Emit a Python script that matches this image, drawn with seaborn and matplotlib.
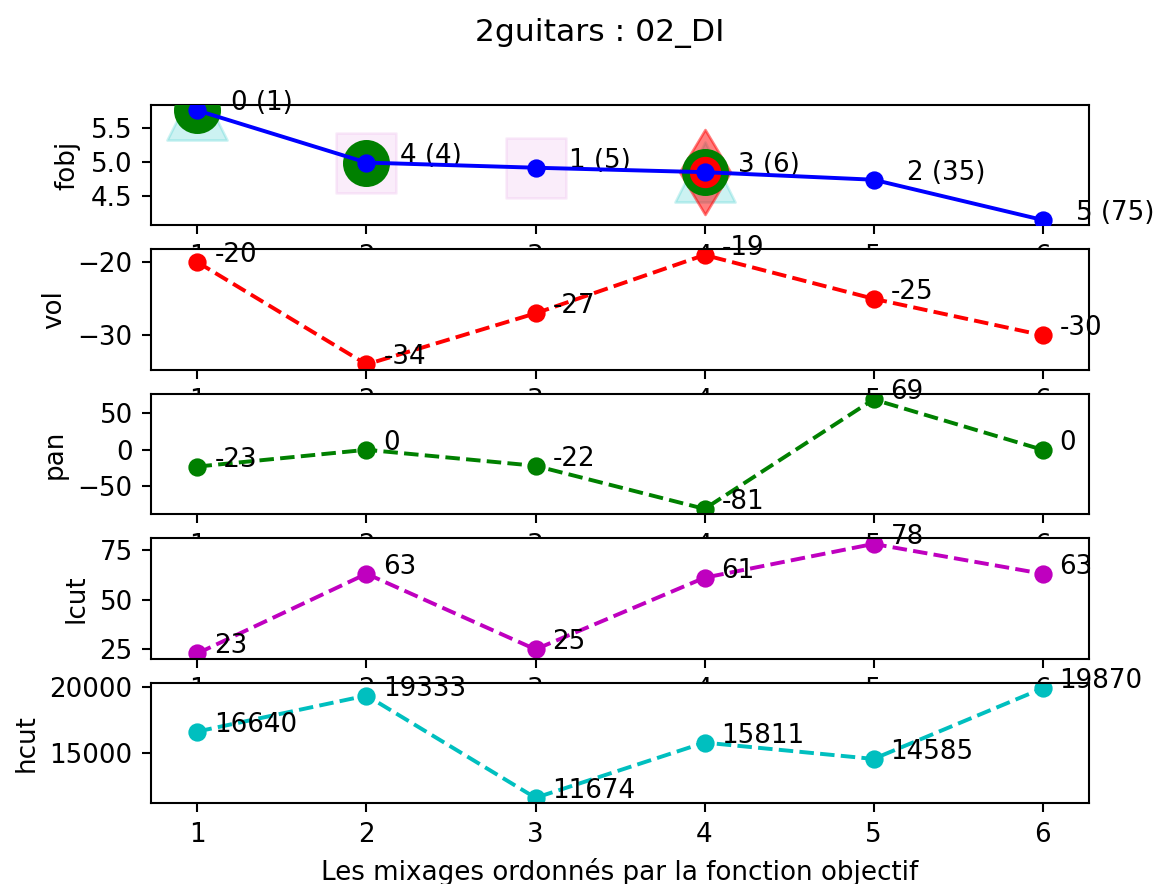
import matplotlib
matplotlib.use("Agg")
import matplotlib.pyplot as plt
import seaborn as sns
import pandas as pd

# Ranked mixes (x axis) and their parameters
mixes = [1, 2, 3, 4, 5, 6]
fobj = [5.75, 4.99, 4.915, 4.85, 4.74, 4.153]
fobj_labels = ["0 (1)", "4 (4)", "1 (5)", "3 (6)", "2 (35)", "5 (75)"]
vol = [-20, -34, -27, -19, -25, -30]
pan = [-23, 0, -22, -81, 69, 0]
lcut = [23, 63, 25, 61, 78, 63]
hcut = [16640, 19333, 11674, 15811, 14585, 19870]

# Highlighted mixes on the objective panel
tri_x = [1, 4]
square_x = [2, 3]
green_x = [1, 2, 4]
diamond_x = [4]
red_x = [4]

df = pd.DataFrame({"mix": mixes, "fobj": fobj, "vol": vol, "pan": pan,
                   "lcut": lcut, "hcut": hcut})
fobj_at = dict(zip(mixes, fobj))

DPI = 188
fig, axes = plt.subplots(5, 1, figsize=(1159 / DPI, 884 / DPI), dpi=DPI)
fig.subplots_adjust(left=0.1303, right=0.9396, top=0.8812, bottom=0.0913,
                    hspace=0.2)

ax = axes[0]


def overlay(xs, marker, ms, color, alpha, zorder):
    sns.scatterplot(x=xs, y=[fobj_at[x] for x in xs], ax=ax, marker=marker,
                    s=ms ** 2, color=color, alpha=alpha, edgecolor=color,
                    linewidth=1, zorder=zorder, legend=False)


overlay(tri_x, "^", 23, "c", 0.2, 2)
overlay(square_x, "s", 23, "m", 0.07, 2)
overlay(diamond_x, "d", 23, "r", 0.5, 3)
overlay(green_x, "o", 17, "g", 1.0, 4)
overlay(red_x, "o", 11, "r", 1.0, 5)
sns.lineplot(data=df, x="mix", y="fobj", ax=ax, color="b", marker="o",
             markersize=6, markeredgecolor="b", markeredgewidth=1, zorder=6)
for x, y, t in zip(mixes, fobj, fobj_labels):
    ax.text(x + 0.2, y, t, fontsize=10)
ax.set_ylabel("fobj")
ax.set_xlabel("")

series = [("vol", "r"), ("pan", "g"), ("lcut", "m"), ("hcut", "c")]
for ax, (name, color) in zip(axes[1:], series):
    sns.lineplot(data=df, x="mix", y=name, ax=ax, color=color, marker="o",
                 linestyle="--", markersize=6, markeredgecolor=color,
                 markeredgewidth=1)
    for x, y in zip(mixes, df[name]):
        ax.text(x + 0.1, y, f"{y}", fontsize=10)
    ax.set_ylabel(name)
    ax.set_xlabel("")

for ax in axes:
    ax.set_xticks(mixes)
    ax.set_xlim(0.725, 6.275)

axes[-1].set_xlabel("Les mixages ordonnés par la fonction objectif")
fig.suptitle("2guitars : 02_DI", x=0.5177)

fig.savefig("out.png", dpi=DPI)
